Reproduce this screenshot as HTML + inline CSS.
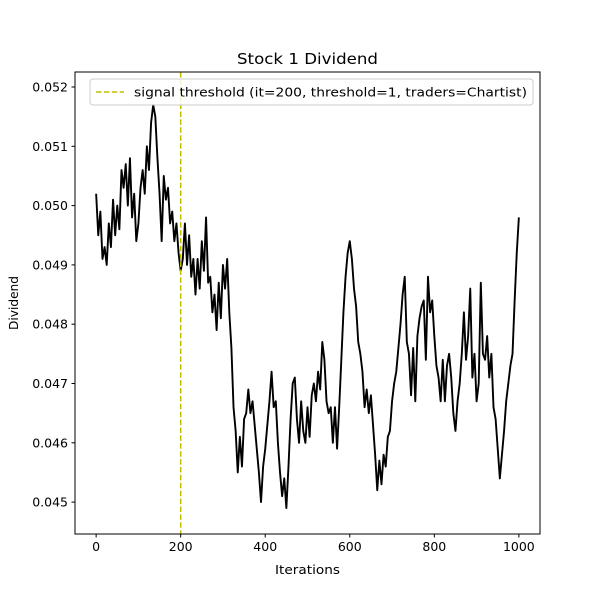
<!DOCTYPE html>
<html><head><meta charset="utf-8"><style>
body{margin:0;background:#fff}
svg text{font-family:"DejaVu Sans","Liberation Sans",sans-serif;fill:#000}
</style></head><body>
<svg id="chart" width="600" height="600" xmlns="http://www.w3.org/2000/svg">
<rect width="600" height="600" fill="#fff"/>
<text x="307.5" y="64" font-size="15" text-anchor="middle" textLength="141" lengthAdjust="spacingAndGlyphs">Stock 1 Dividend</text>
<text x="307.5" y="574" font-size="12.5" text-anchor="middle" textLength="65" lengthAdjust="spacingAndGlyphs">Iterations</text>
<text transform="translate(18,303) rotate(-90)" font-size="12.5" text-anchor="middle" textLength="54" lengthAdjust="spacingAndGlyphs">Dividend</text>
<g id="ticks"></g>
<g id="marks"></g>
<rect x="75" y="72" width="465" height="462" fill="none" stroke="#000" stroke-width="1"/>
<g>
<rect x="90" y="79" width="443" height="26" rx="3" fill="#fff" fill-opacity="0.8" stroke="#ccc"/>
<line x1="96" y1="92" x2="124" y2="92" stroke="#bfbf00" stroke-width="1.5" stroke-dasharray="5.5,2.4"/>
<text x="134" y="96.5" font-size="12.5" textLength="393" lengthAdjust="spacingAndGlyphs">signal threshold (it=200, threshold=1, traders=Chartist)</text>
</g>
</svg>
<script>
const iterations=[0,5,10,15,20,25,30,35,40,45,50,55,60,65,70,75,80,85,90,95,100,105,110,115,120,125,130,135,140,145,150,155,160,165,170,175,180,185,190,195,200,205,210,215,220,225,230,235,240,245,250,255,260,265,270,275,280,285,290,295,300,305,310,315,320,325,330,335,340,345,350,355,360,365,370,375,380,385,390,395,400,405,410,415,420,425,430,435,440,445,450,455,460,465,470,475,480,485,490,495,500,505,510,515,520,525,530,535,540,545,550,555,560,565,570,575,580,585,590,595,600,605,610,615,620,625,630,635,640,645,650,655,660,665,670,675,680,685,690,695,700,705,710,715,720,725,730,735,740,745,750,755,760,765,770,775,780,785,790,795,800,805,810,815,820,825,830,835,840,845,850,855,860,865,870,875,880,885,890,895,900,905,910,915,920,925,930,935,940,945,950,955,960,965,970,975,980,985,990,995,1000];
const dividend=[0.0502,0.0495,0.0499,0.0491,0.0493,0.0490,0.0497,0.0493,0.0501,0.0495,0.0500,0.0496,0.0506,0.0503,0.0507,0.0500,0.0508,0.0498,0.0502,0.0494,0.0497,0.0503,0.0506,0.0502,0.0510,0.0506,0.0514,0.0517,0.0515,0.0508,0.0502,0.0494,0.0505,0.0501,0.0503,0.0497,0.0499,0.0494,0.0497,0.0492,0.0489,0.0491,0.0497,0.0490,0.0495,0.0488,0.0491,0.0485,0.0491,0.0486,0.0494,0.0489,0.0498,0.0487,0.0488,0.0482,0.0485,0.0479,0.0487,0.0481,0.0490,0.0486,0.0491,0.0482,0.0476,0.0466,0.0462,0.0455,0.0461,0.0456,0.0464,0.0465,0.0469,0.0465,0.0467,0.0463,0.0459,0.0455,0.0450,0.0456,0.0459,0.0463,0.0467,0.0472,0.0466,0.0467,0.0460,0.0455,0.0451,0.0454,0.0449,0.0456,0.0464,0.0470,0.0471,0.0464,0.0460,0.0467,0.0462,0.0460,0.0466,0.0461,0.0468,0.0470,0.0467,0.0472,0.0469,0.0477,0.0474,0.0467,0.0465,0.0466,0.0460,0.0466,0.0459,0.0466,0.0474,0.0482,0.0488,0.0492,0.0494,0.0491,0.0486,0.0483,0.0477,0.0475,0.0472,0.0466,0.0469,0.0465,0.0468,0.0463,0.0458,0.0452,0.0457,0.0453,0.0458,0.0456,0.0461,0.0462,0.0467,0.0470,0.0472,0.0476,0.0480,0.0485,0.0488,0.0477,0.0475,0.0468,0.0476,0.0467,0.0478,0.0481,0.0483,0.0484,0.0474,0.0488,0.0482,0.0484,0.0478,0.0473,0.0471,0.0467,0.0474,0.0467,0.0473,0.0475,0.0471,0.0465,0.0462,0.0467,0.0470,0.0475,0.0482,0.0474,0.0478,0.0486,0.0471,0.0475,0.0467,0.0470,0.0487,0.0475,0.0474,0.0478,0.0471,0.0475,0.0466,0.0464,0.0459,0.0454,0.0458,0.0462,0.0467,0.0470,0.0473,0.0475,0.0484,0.0492,0.0498];
const xTicks=[0,200,400,600,800,1000];
const yTicks=[0.045,0.046,0.047,0.048,0.049,0.050,0.051,0.052];
const thresholdIt=[200];
const NS="http://www.w3.org/2000/svg";
const X0=75,X1=540,Y0=72,Y1=534,XMIN=-50,XMAX=1050,YMIN=0.044462,YMAX=0.052253;
const sx=v=>X0+(v-XMIN)/(XMAX-XMIN)*(X1-X0);
const sy=v=>Y1-(v-YMIN)/(YMAX-YMIN)*(Y1-Y0);
function mk(t,a,p){const e=document.createElementNS(NS,t);for(const k in a)e.setAttribute(k,a[k]);p.appendChild(e);return e;}
const tg=document.getElementById('ticks'),mg=document.getElementById('marks');
xTicks.forEach(v=>{const x=sx(v);
const l=mk('line',{x1:x,x2:x,y1:Y1,y2:Y1+3.5,stroke:'#000'},tg);


const t=mk('text',{x:x,y:Y1+17,'font-size':12.5,'text-anchor':'middle'},tg);t.textContent=v;

});
yTicks.forEach(v=>{const y=sy(v);
const l=mk('line',{x1:X0-3.5,x2:X0,y1:y,y2:y,stroke:'#000'},tg);


const t=mk('text',{x:X0-7,y:y+4.5,'font-size':12.5,'text-anchor':'end'},tg);t.textContent=v.toFixed(3);

});
const pts=iterations.map((it,i)=>sx(it).toFixed(2)+','+sy(dividend[i]).toFixed(2)).join(' ');
const pl=mk('polyline',{points:pts,fill:'none',stroke:'#000','stroke-width':1.9,'stroke-linejoin':'round'},mg);


thresholdIt.forEach(v=>{const x=sx(v);
const l=mk('line',{x1:x,x2:x,y1:Y0,y2:Y1,stroke:'#bfbf00','stroke-width':1.5,'stroke-dasharray':'5.5,2.4'},mg);

});
</script>
</body></html>
